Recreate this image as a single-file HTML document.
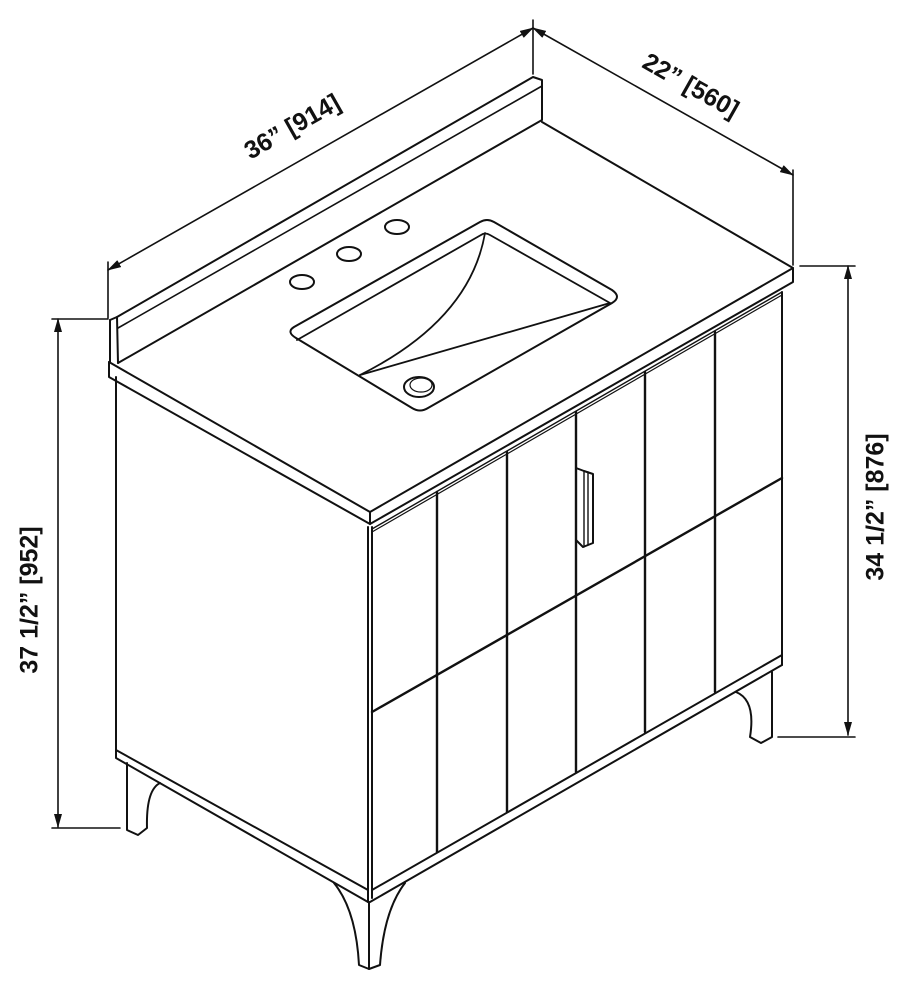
<!DOCTYPE html>
<html><head><meta charset="utf-8"><style>
html,body{margin:0;padding:0;background:#fff;}
svg{display:block;}
text{font-family:"Liberation Sans",Arial,sans-serif;font-weight:bold;font-size:25px;fill:#111;}
</style></head><body>
<svg width="910" height="990" viewBox="0 0 910 990" xmlns="http://www.w3.org/2000/svg">
<defs>
<marker id="a" markerWidth="14" markerHeight="8" refX="13" refY="4" orient="auto" markerUnits="userSpaceOnUse">
<path d="M0,0 L14,4 L0,8 z" fill="#111"/></marker>
<marker id="b" markerWidth="14" markerHeight="8" refX="1" refY="4" orient="auto" markerUnits="userSpaceOnUse">
<path d="M14,0 L0,4 L14,8 z" fill="#111"/></marker>
</defs>
<g fill="none" stroke="#111" stroke-width="2" stroke-linejoin="round" stroke-linecap="round">
<line x1="108" y1="270" x2="533" y2="28" stroke-width="1.6" marker-start="url(#b)" marker-end="url(#a)"/>
<line x1="108" y1="262" x2="108" y2="318" stroke-width="1.6"/>
<line x1="533" y1="20" x2="533" y2="74" stroke-width="1.6"/>
<line x1="533" y1="28" x2="793" y2="175" stroke-width="1.6" marker-start="url(#b)" marker-end="url(#a)"/>
<line x1="793" y1="170" x2="793" y2="265" stroke-width="1.6"/>
<line x1="848" y1="266" x2="848" y2="735" stroke-width="1.6" marker-start="url(#b)" marker-end="url(#a)"/>
<line x1="800" y1="266" x2="855" y2="266" stroke-width="1.6"/>
<line x1="778" y1="737" x2="855" y2="737" stroke-width="1.6"/>
<line x1="58" y1="319" x2="58" y2="827" stroke-width="1.6" marker-start="url(#b)" marker-end="url(#a)"/>
<line x1="52" y1="319" x2="108" y2="319" stroke-width="1.6"/>
<line x1="52" y1="828" x2="120" y2="828" stroke-width="1.6"/>

<path d="M110,320 L117,317 L533,77 L542,80 L542,120 L118,363"/>
<path d="M117,317 L118,363"/>
<path d="M110,320 L110,362"/>
<path d="M118,328 L542,86" stroke-width="1.6"/>
<path d="M109,362 L370,512 L793,268 L542,122"/>
<path d="M109,362 L109,377 L370,524 L793,282 L793,268"/>
<path d="M370,512 L370,524"/>
<path d="M372,529 L782,292" stroke-width="1.4"/>
<path d="M372,532 L782,295" stroke-width="1.2"/>
<path d="M296,338 Q286,332 294,327 L480,222 Q487,218 494,222 L612,290 Q622,297 612,303 L428,408 Q420,413 412,408 Z"/>
<path d="M297,340 L481,235 Q485,232 490,235 L610,303" stroke-width="1.8"/>
<path d="M485,233 Q470,320 360,375" stroke-width="1.8"/>
<path d="M360,375 L610,303" stroke-width="1.8"/>
<ellipse cx="419" cy="387" rx="15" ry="10"/>
<ellipse cx="421" cy="385" rx="11" ry="7" stroke-width="1.2"/>
<ellipse cx="302" cy="282" rx="12" ry="7"/>
<ellipse cx="349" cy="254" rx="12" ry="7"/>
<ellipse cx="397" cy="227" rx="12" ry="7"/>
<path d="M116,377 L116,750 L368,890"/>
<path d="M116,750 L116,758 L368,902"/>
<path d="M368,527 L368,902"/>
<path d="M372,527 L372,898"/>
<path d="M782,292 L782,665"/>
<path d="M372,890 L782,655"/>
<path d="M370,902 L782,665"/>
<path d="M372,712 L782,478" stroke-width="2.4"/>
<g stroke-width="2.4">
<line x1="437" y1="492" x2="437" y2="852"/>
<line x1="507" y1="452" x2="507" y2="812"/>
<line x1="576" y1="412" x2="576" y2="772"/>
<line x1="645" y1="372" x2="645" y2="732"/>
<line x1="715" y1="332" x2="715" y2="692"/>
</g>
<path d="M576,468 L584,471 L593,474 L593,543 L583,547 L576,540"/>
<path d="M584,471 L584,547 M588,472 L588,545" stroke-width="1.4"/>
<path d="M334,883 Q356,910 359,965 L369,969 L380,965 Q384,910 405,883"/>
<line x1="369" y1="902" x2="369" y2="969"/>
<path d="M127,763 L127,830 L138,835 L147,828 Q146,790 160,783"/>
<path d="M772,672 L772,737 L761,743 L750,737 Q756,700 736,692"/>
</g>
<text transform="translate(293,128) rotate(-29.6)" text-anchor="middle" dominant-baseline="middle">36” [914]</text>
<text transform="translate(690,87) rotate(29.5)" text-anchor="middle" dominant-baseline="middle">22” [560]</text>
<text transform="translate(877,507) rotate(-90)" text-anchor="middle" dominant-baseline="middle">34 1/2” [876]</text>
<text transform="translate(31,600) rotate(-90)" text-anchor="middle" dominant-baseline="middle">37 1/2” [952]</text>
</svg>
</body></html>
